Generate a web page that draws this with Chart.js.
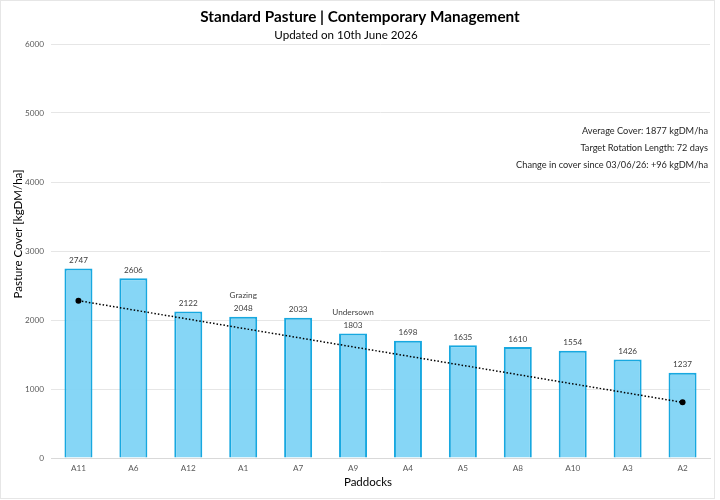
<!DOCTYPE html>
<html>
<head>
<meta charset="utf-8">
<script src="https://cdn.jsdelivr.net/npm/chart.js@4/dist/chart.umd.min.js"></script>
<style>
html,body{margin:0;padding:0;background:#fff;}
#wrap{width:720px;height:500px;position:relative;}
</style>
</head>
<body>
<div id="wrap"><canvas id="c" width="720" height="500"></canvas></div>
<script>
const paddocks = ["A11","A6","A12","A1","A7","A9","A4","A5","A8","A10","A3","A2"];
const cover = [2747,2606,2122,2048,2033,1803,1698,1635,1610,1554,1426,1237];
const notes = ["","","","Grazing","","Undersown","","","","","",""];
const trend = [2280,null,null,null,null,null,null,null,null,null,null,807];
const yTicks = [0,1000,2000,3000,4000,5000,6000];
const titleText = "Standard Pasture | Contemporary Management";
const subtitleText = "Updated on 10th June 2026";
const infoLines = ["Average Cover: 1877 kgDM/ha","Target Rotation Length: 72 days","Change in cover since 03/06/26: +96 kgDM/ha"];
const yTitle = "Pasture Cover [kgDM/ha]";
const xTitle = "Paddocks";

const FONT = "Lato, 'Open Sans', sans-serif";

const decor = {
  id:'decor',
  afterDraw(chart){
    const ctx = chart.ctx;
    ctx.save();
    // border
    ctx.strokeStyle = '#e6e6e6'; ctx.lineWidth = 1;
    ctx.strokeRect(0.5,0.5,714,498);
    // title
    ctx.fillStyle = '#000';
    ctx.textAlign = 'center'; ctx.textBaseline = 'middle';
    ctx.font = "bold 15.3px " + FONT;
    ctx.fillText(titleText, 360, 17);
    ctx.font = "11.6px " + FONT;
    ctx.fillText(subtitleText, 346, 35);
    // info
    ctx.textAlign = 'right';
    ctx.font = "9.2px " + FONT;
    ctx.fillStyle = '#262626';
    const iy = [131,148,165];
    infoLines.forEach((t,i)=>ctx.fillText(t, 708, iy[i]));
    // axis titles
    ctx.fillStyle = '#000';
    ctx.font = "11.5px " + FONT;
    ctx.textAlign = 'center';
    ctx.fillText(xTitle, 368, 482);
    ctx.save();
    ctx.translate(18, 234);
    ctx.rotate(-Math.PI/2);
    ctx.fillText(yTitle, 0, 0);
    ctx.restore();
    // data labels
    ctx.fillStyle = '#404040';
    ctx.font = "8.2px " + FONT;
    const meta = chart.getDatasetMeta(0);
    meta.data.forEach((bar,i)=>{
      const x = bar.x, y = bar.y;
      ctx.fillText(String(cover[i]), x, y - 8);
      if (notes[i]) ctx.fillText(notes[i], x, y - 21);
    });
    ctx.restore();
  }
};

new Chart(document.getElementById('c'), {
  data: {
    labels: paddocks,
    datasets: [
      {
        type:'bar', data: cover,
        backgroundColor:'rgba(127,212,245,0.95)',
        borderColor:'#17a8e0', borderWidth:2,
        categoryPercentage:1.0, barPercentage:0.51, order:2
      },
      {
        type:'line', data: trend, spanGaps:true,
        borderColor:'#000', borderWidth:1.5, borderDash:[1.5,2],
        pointRadius:3, pointBackgroundColor:'#000', pointBorderWidth:0,
        fill:false, order:1
      }
    ]
  },
  options: {
    responsive:false, animation:false, devicePixelRatio:1,
    layout:{padding:{top:44, right:10, left:0, bottom:0}},
    plugins:{legend:{display:false}, tooltip:{enabled:false}, title:{display:false}},
    scales:{
      x:{
        grid:{display:false, drawTicks:false},
        border:{display:true, color:'#d9d9d9'},
        ticks:{color:'#595959', font:{size:8.2, family:FONT}, padding:5},
        afterFit(s){ s.height = 42; }
      },
      y:{
        min:0, max:6000,
        afterBuildTicks(s){ s.ticks = yTicks.map(v=>({value:v})); },
        grid:{color:'#e6e6e6', drawTicks:false},
        border:{display:false},
        ticks:{color:'#595959', font:{size:8.2, family:FONT}, padding:7, callback:(v)=>String(v)},
        afterFit(s){ s.width = 51; }
      }
    }
  },
  plugins:[decor]
});
</script>
</body>
</html>
